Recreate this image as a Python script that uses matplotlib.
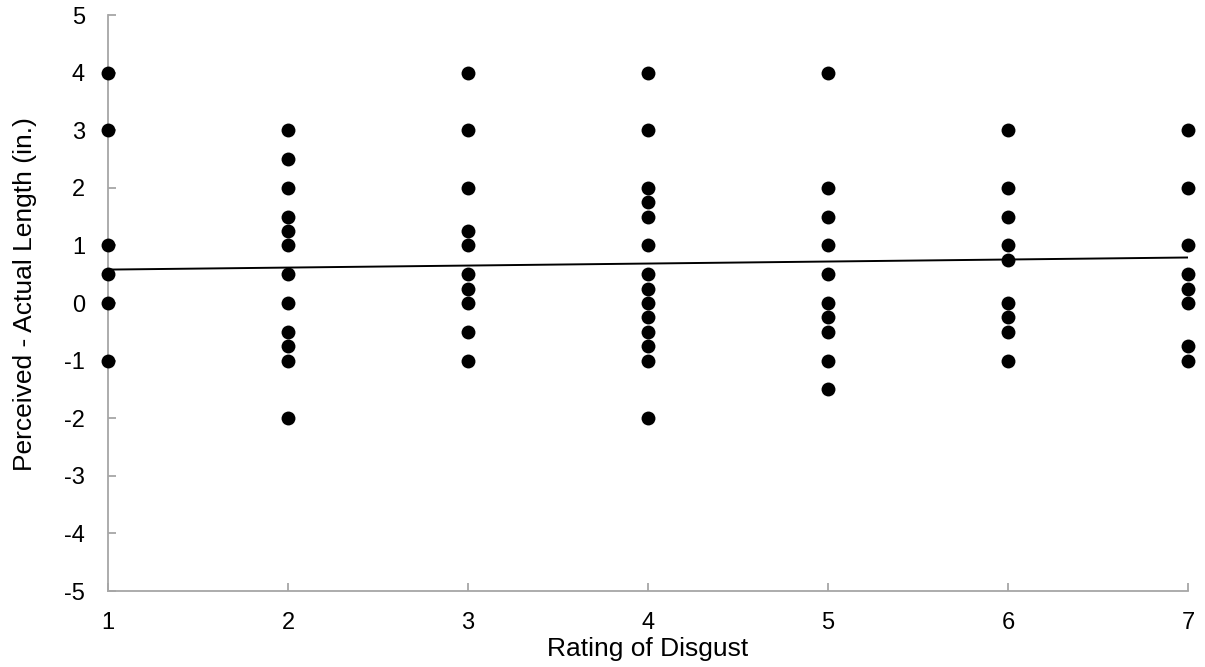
import matplotlib
matplotlib.use("Agg")
import matplotlib.pyplot as plt

plt.rcParams['font.family'] = ['Liberation Sans', 'DejaVu Sans']
plt.rcParams['axes.unicode_minus'] = False

# values, grouped by rating
d1 = [4, 3, 1, 0.5, 0, -1]
d2 = [3, 2.5, 2, 1.5, 1.25, 1, 0.5, 0, -0.5, -0.75, -1, -2]
d3 = [4, 3, 2, 1.25, 1, 0.5, 0.25, 0, -0.5, -1]
d4 = [4, 3, 2, 1.75, 1.5, 1, 0.5, 0.25, 0, -0.25, -0.5, -0.75, -1, -2]
d5 = [4, 2, 1.5, 1, 0.5, 0, -0.25, -0.5, -1, -1.5]
d6 = [3, 2, 1.5, 1, 0.75, 0, -0.25, -0.5, -1]
d7 = [3, 2, 1, 0.5, 0.25, 0, -0.75, -1]
groups = [d1, d2, d3, d4, d5, d6, d7]

trend_x = [1, 7]
trend_y = [0.58, 0.79]

xticks = [1, 2, 3, 4, 5, 6, 7]
yticks = [-5, -4, -3, -2, -1, 0, 1, 2, 3, 4, 5]


def make_fig():
    fig = plt.figure(figsize=(12.05, 6.67), dpi=100)
    ax = fig.add_axes([108 / 1205, 1 - 591 / 667, (1188 - 108) / 1205, (591 - 15) / 667])

    for rating, vals in zip(xticks, groups):
        ax.scatter([rating] * len(vals), vals, s=100, color="black", zorder=3,
                   clip_on=False, linewidths=0)
    ax.plot(trend_x, trend_y, color="black", lw=1.4, zorder=2)

    ax.set_xlim(1, 7)
    ax.set_ylim(-5, 5)
    ax.set_xticks(xticks)
    ax.set_yticks(yticks)
    ax.set_xticklabels([str(t) for t in xticks])
    ax.set_yticklabels([str(t) for t in yticks])

    for s in ["top", "right"]:
        ax.spines[s].set_visible(False)
    for s in ["left", "bottom"]:
        ax.spines[s].set_color("#a6a6a6")
        ax.spines[s].set_linewidth(1.3)
    ax.tick_params(direction="in", length=6, width=1.3, color="#a6a6a6",
                   labelsize=17)
    ax.tick_params(axis="y", pad=16.5)
    ax.tick_params(axis="x", pad=15)

    fig.text((108 + 1188) / 2 / 1205, 1 - 656 / 667, "Rating of Disgust",
             fontsize=19, ha="center", va="baseline")
    fig.text(25 / 1205, 1 - 294.5 / 667, "Perceived - Actual Length (in.)",
             fontsize=19, rotation=90, ha="center", va="center")

    plt.savefig("out.png", dpi=100)


if __name__ == "__main__":
    make_fig()
